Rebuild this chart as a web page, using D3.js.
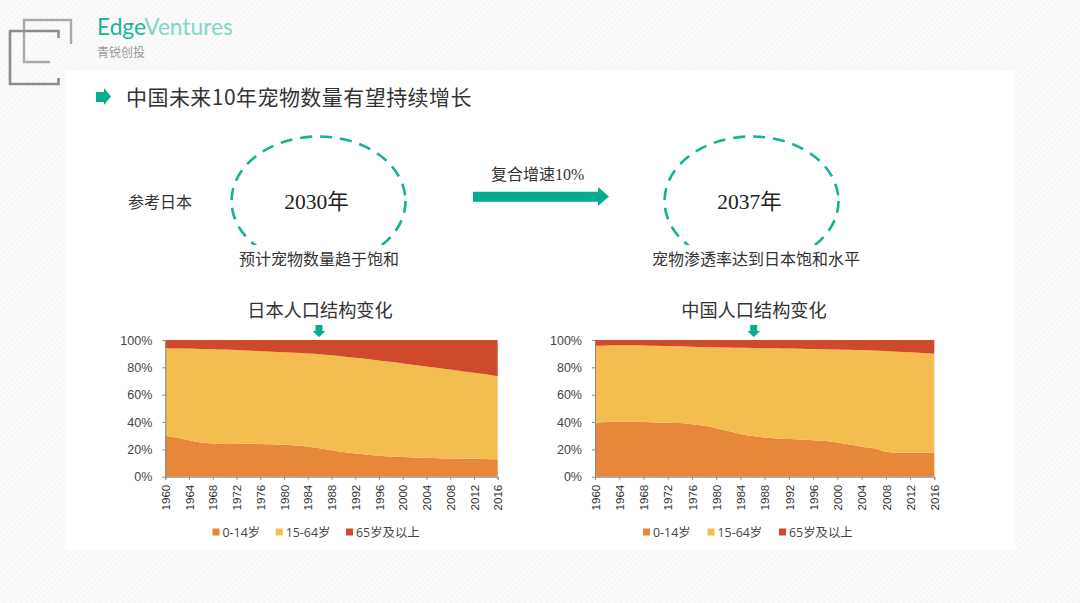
<!DOCTYPE html>
<html><head><meta charset="utf-8">
<script src="https://cdn.jsdelivr.net/npm/d3@7"></script>
<style>html,body{margin:0;padding:0;background:#fff}svg{display:block}
text{font-family:"Noto Sans CJK SC","Noto Sans",sans-serif}</style></head>
<body><svg id="c" width="1080" height="603"></svg>
<script>
const years = [1960,1962,1964,1966,1968,1970,1972,1974,1976,1978,1980,1982,1984,1986,1988,1990,1992,1994,1996,1998,2000,2002,2004,2006,2008,2010,2012,2014,2016];
const yearTicks = [1960,1964,1968,1972,1976,1980,1984,1988,1992,1996,2000,2004,2008,2012,2016];
const pctTicks = [0,20,40,60,80,100];
const seriesNames = ["0-14岁","15-64岁","65岁及以上"];
const seriesColors = ["#E6873A","#F3BE4F","#CE4A2A"];
const japanYoung = [30,28.5,26.7,25,24.3,24,24,24.1,24,23.7,23.4,22.8,22,20.8,19.3,18,16.9,16.1,15.3,14.8,14.4,14.1,13.8,13.5,13.3,13.2,13.1,13,12.8];
const japanWork  = [64.2,65.3,67.1,68.5,68.9,69,68.7,68.2,67.8,67.7,67.6,67.8,68.1,68.8,69.6,70,70.1,70,69.7,69.2,68.4,67.6,66.8,66,65.1,64,62.9,61.9,60.7];
const japanOld   = [5.8,6.2,6.2,6.5,6.8,7,7.3,7.7,8.2,8.6,9,9.4,9.9,10.4,11.1,12,13,13.9,15,16,17.2,18.3,19.4,20.5,21.6,22.8,24,25.1,26.5];
const chinaYoung = [39.5,40,40.3,40.3,40.1,39.7,39.5,39.2,38.4,37.2,35.5,33.4,31.3,29.7,28.6,27.9,27.5,27.2,26.7,26.1,25,23.5,22,20.8,18.2,17.5,17.5,17.6,17.7];
const chinaWork  = [56.3,56,55.8,55.8,55.9,56.1,56.1,56.2,56.7,57.7,59.2,61.1,63,64.5,65.4,66,66.2,66.4,66.7,67.1,68,69.3,70.6,71.5,73.8,73.9,73.5,72.9,72.3];
const chinaOld   = [4.2,4,3.9,3.9,4,4.2,4.4,4.6,4.9,5.1,5.3,5.5,5.7,5.8,6,6.1,6.3,6.4,6.6,6.8,7,7.2,7.4,7.7,8,8.6,9,9.5,10];

const svg = d3.select("#c");
const defs = svg.append("defs");
const pat = defs.append("pattern").attr("id","hatch").attr("width",4).attr("height",4)
  .attr("patternUnits","userSpaceOnUse").attr("patternTransform","rotate(45)");
pat.append("rect").attr("width",4).attr("height",4).attr("fill","#fcfcfc");
pat.append("rect").attr("width",1.6).attr("height",4).attr("fill","#f6f6f6");
svg.append("rect").attr("width",1080).attr("height",603).attr("fill","url(#hatch)");
svg.append("rect").attr("x",65).attr("y",70).attr("width",950).attr("height",480).attr("fill","#fff");

// logo
const lg = svg.append("g").attr("fill","none");
lg.append("path").attr("d","M71 44V20H24V62H50").attr("stroke","#aaaaaa").attr("stroke-width",2.4);
lg.append("path").attr("d","M58.5 38V31H10V84H58.5V78").attr("stroke","#8c8c8c").attr("stroke-width",2.6);
const logo = svg.append("text").attr("x",97).attr("y",35).attr("font-size",22.7)
  .style("font-family","Lato, sans-serif");
logo.append("tspan").attr("fill","#16b595").style("font-weight",400).text("Edge");
logo.append("tspan").attr("fill","#7fd8c6").style("font-weight",400).text("Ventures");
svg.append("text").attr("x",97).attr("y",57).attr("font-size",12).attr("fill","#9a9a9a").text("青锐创投");

const GREEN = "#05AD8F";
// title
svg.append("path").attr("d","M96 92H104V88L111 96.5L104 105V102H96Z").attr("fill",GREEN);
svg.append("text").attr("x",126).attr("y",105).attr("font-size",21).attr("letter-spacing",0.45).attr("fill","#333").text("中国未来10年宠物数量有望持续增长");

// ellipses and notes
[[318.5,"2030年","预计宠物数量趋于饱和",319],[751.5,"2037年","宠物渗透率达到日本饱和水平",756]].forEach(([cx,lab,note,nx])=>{
  svg.append("ellipse").attr("cx",cx).attr("cy",201).attr("rx",87).attr("ry",64.5)
    .attr("fill","none").attr("stroke","#14B294").attr("stroke-width",2.6).attr("stroke-dasharray","12 8");
  svg.append("rect").attr("x",cx-110).attr("y",245).attr("width",220).attr("height",28).attr("fill","#fff");
  svg.append("text").attr("x",cx-2).attr("y",209).attr("text-anchor","middle").attr("font-size",21.5).attr("fill","#222")
    .style("font-family",'"Liberation Serif","Noto Sans CJK SC",serif').text(lab);
  svg.append("text").attr("x",nx).attr("y",265).attr("text-anchor","middle").attr("font-size",16).attr("fill","#333").text(note);
});
svg.append("text").attr("x",128).attr("y",208).attr("font-size",16).attr("fill","#333").text("参考日本");
svg.append("text").attr("x",491).attr("y",180).attr("font-size",16).attr("fill","#333")
  .style("font-family",'"Liberation Serif","Noto Sans CJK SC",serif').text("复合增速10%");
svg.append("path").attr("d","M473 191.7H598V187L609 196.5L598 206V201.7H473Z").attr("fill",GREEN);

function chart(title, titleX, arrowX, x0, x1, young, work, old, legendPos){
  const top = 340, bottom = 476.7;
  const x = d3.scaleLinear().domain([1960,2016]).range([x0,x1]);
  const y = d3.scaleLinear().domain([0,100]).range([bottom,top]);
  const rows = years.map((yr,i)=>({year:yr,a:young[i],b:work[i],c:old[i]}));
  const stacked = d3.stack().keys(["a","b","c"])(rows);
  const area = d3.area().x(d=>x(d.data.year)).y0(d=>y(d[0])).y1(d=>y(d[1])).curve(d3.curveMonotoneX);
  const g = svg.append("g");
  g.selectAll("path.s").data(stacked).join("path").attr("class","s").attr("d",area)
    .attr("fill",(d,i)=>seriesColors[i]);
  const ax = g.append("g").attr("transform",`translate(0,${bottom})`)
    .call(d3.axisBottom(x).tickValues(yearTicks).tickFormat(d3.format("d")).tickSize(3).tickPadding(0));
  ax.selectAll("text").attr("transform","rotate(-90)").attr("text-anchor","end")
    .attr("x",-8).attr("y",0).attr("dy","0.36em").attr("font-size",11.6).attr("fill","#333")
    .style("font-family",'"Liberation Sans",sans-serif');
  const ay = g.append("g").attr("transform",`translate(${x0},0)`)
    .call(d3.axisLeft(y).tickValues(pctTicks).tickFormat(d=>d+"%").tickSize(3).tickSizeOuter(0).tickPadding(10));
  ay.selectAll("text").attr("font-size",12.5).attr("fill","#444").style("font-family",'"Liberation Sans",sans-serif');
  g.selectAll(".domain").attr("stroke","#888").attr("stroke-width",1);
  g.selectAll(".tick line").attr("stroke","#888");
  svg.append("text").attr("x",titleX).attr("y",317).attr("text-anchor","middle").attr("font-size",18.2).attr("fill","#333").text(title);
  svg.append("path").attr("transform",`translate(${arrowX},325)`)
    .attr("d","M-3.5 0H3.5V6H6.5L0 12L-6.5 6H-3.5Z").attr("fill",GREEN);
  const lgd = svg.append("g").selectAll("g").data(seriesNames).join("g")
    .attr("transform",(d,i)=>`translate(${legendPos[i]},0)`);
  lgd.append("rect").attr("y",528.5).attr("width",7).attr("height",7).attr("fill",(d,i)=>seriesColors[i]);
  lgd.append("text").attr("x",10).attr("y",536.5).attr("font-size",12.4).attr("fill","#444")
    .style("font-family",'"Open Sans","Noto Sans CJK SC",sans-serif').text(d=>d);
}
chart("日本人口结构变化",320,319,165.3,497.7,japanYoung,japanWork,japanOld,[212.5,275.7,346]);
chart("中国人口结构变化",754,753.7,595,934.3,chinaYoung,chinaWork,chinaOld,[643,707.5,779]);
</script></body></html>
